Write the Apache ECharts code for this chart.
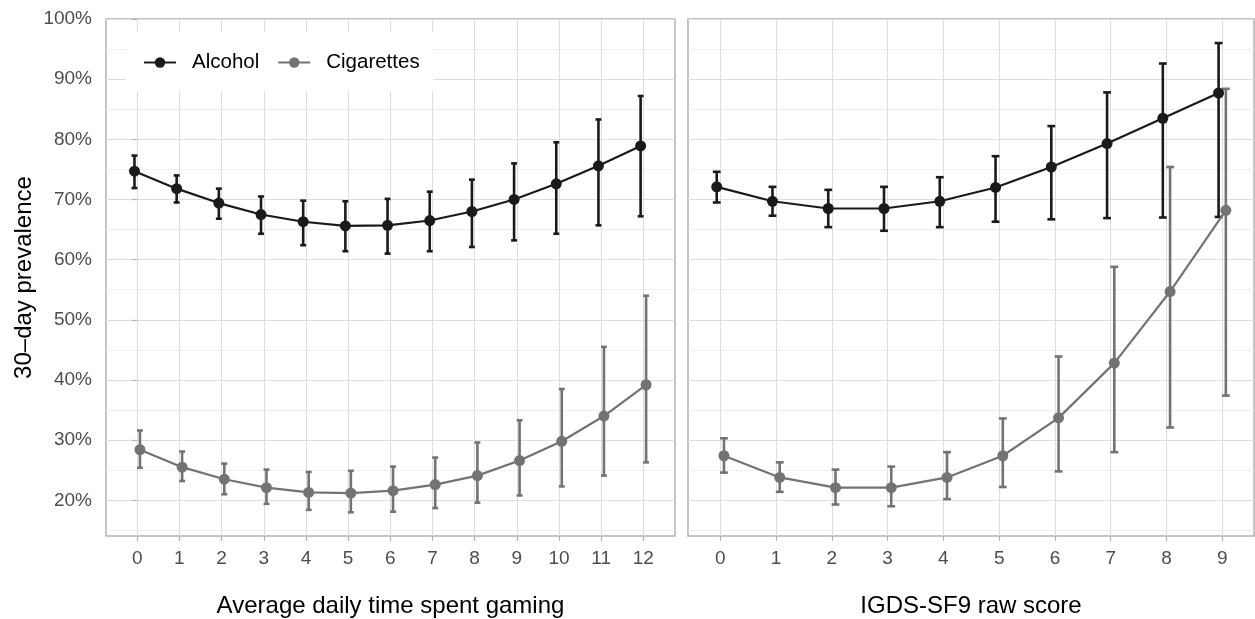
<!DOCTYPE html>
<html>
<head>
<meta charset="utf-8">
<script src="https://cdn.jsdelivr.net/npm/echarts@6/dist/echarts.min.js"></script>
<style>
  html, body { margin: 0; padding: 0; background: #fff; }
  #chart { width: 1255px; height: 619px; }
</style>
</head>
<body>
<div id="chart"></div>
<script>
// x categories
const timeCats = [0, 1, 2, 3, 4, 5, 6, 7, 8, 9, 10, 11, 12];
const scoreCats = [0, 1, 2, 3, 4, 5, 6, 7, 8, 9];

// average daily time spent gaming
const alcTime   = [74.7, 71.8, 69.4, 67.5, 66.3, 65.6, 65.7, 66.5, 68.0, 70.0, 72.6, 75.6, 78.9];
const alcTimeLo = [71.9, 69.5, 66.8, 64.3, 62.4, 61.4, 61.0, 61.4, 62.1, 63.2, 64.3, 65.7, 67.2];
const alcTimeHi = [77.3, 74.0, 71.8, 70.5, 69.8, 69.7, 70.1, 71.3, 73.3, 76.0, 79.5, 83.3, 87.2];
const cigTime   = [28.4, 25.5, 23.5, 22.1, 21.3, 21.2, 21.6, 22.6, 24.1, 26.6, 29.8, 34.0, 39.2];
const cigTimeLo = [25.4, 23.2, 21.0, 19.4, 18.4, 18.0, 18.1, 18.7, 19.6, 20.8, 22.3, 24.1, 26.3];
const cigTimeHi = [31.6, 28.1, 26.1, 25.1, 24.7, 24.9, 25.6, 27.1, 29.6, 33.3, 38.5, 45.5, 54.0];

// IGDS-SF9 raw score
const alcScore   = [72.1, 69.7, 68.5, 68.5, 69.7, 72.0, 75.4, 79.3, 83.5, 87.7];
const alcScoreLo = [69.5, 67.3, 65.4, 64.8, 65.4, 66.3, 66.7, 66.9, 67.0, 67.1];
const alcScoreHi = [74.6, 72.1, 71.6, 72.1, 73.7, 77.2, 82.2, 87.8, 92.6, 96.0];
const cigScore   = [27.4, 23.8, 22.1, 22.1, 23.8, 27.4, 33.7, 42.8, 54.7, 68.2];
const cigScoreLo = [24.6, 21.4, 19.3, 19.0, 20.2, 22.2, 24.8, 28.0, 32.1, 37.4];
const cigScoreHi = [30.3, 26.3, 25.1, 25.6, 28.0, 33.6, 43.9, 58.8, 75.4, 88.4];

const yMajor = [20, 30, 40, 50, 60, 70, 80, 90, 100];
const yMinor = [15, 25, 35, 45, 55, 65, 75, 85, 95];

const ALC = '#1a1a1a';
const CIG = '#737373';
const DODGE = 0.065;
const FONT = '"Liberation Sans", Arial, sans-serif';

function pts(cats, vals, shift) {
  return cats.map((c, i) => [c + shift, vals[i]]);
}
function bars(cats, lo, hi, shift) {
  return cats.map((c, i) => [c + shift, lo[i], hi[i]]);
}

// 误差线
function errRender(params, api) {
  const x = api.value(0);
  const bot = api.coord([x, api.value(1)]);
  const top = api.coord([x, api.value(2)]);
  const half = api.size([0.07, 0])[0];
  const style = { stroke: api.visual('color'), lineWidth: 2.6 };
  return {
    type: 'group',
    children: [
      { type: 'line', shape: { x1: top[0], y1: top[1], x2: bot[0], y2: bot[1] }, style: style },
      { type: 'line', shape: { x1: top[0] - half, y1: top[1], x2: top[0] + half, y2: top[1] }, style: style },
      { type: 'line', shape: { x1: bot[0] - half, y1: bot[1], x2: bot[0] + half, y2: bot[1] }, style: style }
    ]
  };
}

function lineSeries(name, color, data, idx) {
  return {
    name: name, type: 'line', xAxisIndex: idx, yAxisIndex: idx * 2,
    data: data, symbol: 'circle', symbolSize: 11,
    lineStyle: { color: color, width: 2.2 }, itemStyle: { color: color },
    z: 3, animation: false
  };
}
function errSeries(name, color, data, idx) {
  return {
    name: name, type: 'custom', xAxisIndex: idx, yAxisIndex: idx * 2,
    data: data, renderItem: errRender, itemStyle: { color: color },
    encode: { x: 0, y: [1, 2] }, z: 2, animation: false
  };
}

function xAx(idx, cats, min, max, title) {
  return {
    type: 'value', gridIndex: idx, min: min, max: max,
    name: title, nameLocation: 'middle', nameGap: 58,
    nameTextStyle: { fontFamily: FONT, fontSize: 24, color: '#000' },
    axisLine: { show: false },
    axisTick: { show: true, length: 5, customValues: cats, lineStyle: { color: '#b3b3b3', width: 1.2 } },
    axisLabel: { customValues: cats, margin: 13, fontFamily: FONT, fontSize: 19, color: '#4d4d4d' },
    splitLine: { show: true, lineStyle: { color: '#dedede', width: 1.1 } }
  };
}
function yAxes(idx, showLabels) {
  return [{
    type: 'value', gridIndex: idx, min: 14.06, max: 100,
    name: showLabels ? '30–day prevalence' : '', nameLocation: 'middle', nameGap: 70,
    nameTextStyle: { fontFamily: FONT, fontSize: 24, color: '#000' },
    axisLine: { show: false },
    axisTick: { show: showLabels, length: 5, customValues: yMajor, lineStyle: { color: '#b3b3b3', width: 1.2 } },
    axisLabel: { show: showLabels, customValues: yMajor, margin: 14, padding: [5, 0, 0, 0],
      fontFamily: FONT, fontSize: 19, color: '#4d4d4d', formatter: v => v + '%' },
    splitLine: { show: true, lineStyle: { color: '#dedede', width: 1.1 } }
  }, {
    type: 'value', gridIndex: idx, min: 14.06, max: 100,
    axisLine: { show: false },
    axisTick: { show: false, customValues: yMinor },
    axisLabel: { show: false, customValues: yMinor },
    splitLine: { show: true, lineStyle: { color: '#ebebeb', width: 0.8 } }
  }];
}

const chart = echarts.init(document.getElementById('chart'), null, { renderer: 'canvas' });
chart.setOption({
  backgroundColor: '#fff',
  animation: false,
  grid: [
    { left: 106, top: 19, width: 569, height: 517, show: true, borderColor: '#b3b3b3', borderWidth: 1.5,
      backgroundColor: 'transparent', containLabel: false, outerBoundsMode: 'none' },
    { left: 688, top: 19, width: 566, height: 517, show: true, borderColor: '#b3b3b3', borderWidth: 1.5,
      backgroundColor: 'transparent', containLabel: false, outerBoundsMode: 'none' }
  ],
  legend: {
    data: ['Alcohol', 'Cigarettes'],
    left: 126, top: 32,
    padding: [20, 14, 18, 17],
    backgroundColor: '#fff',
    itemWidth: 32, itemHeight: 13, itemGap: 18,
    textStyle: { fontFamily: FONT, fontSize: 20.5, color: '#000', padding: [0, 0, 0, 11] }
  },
  xAxis: [
    xAx(0, timeCats, -0.74, 12.75, 'Average daily time spent gaming'),
    xAx(1, scoreCats, -0.58, 9.57, 'IGDS-SF9 raw score')
  ],
  yAxis: yAxes(0, true).concat(yAxes(1, false)),
  series: [
    errSeries('Alcohol CI', ALC, bars(timeCats, alcTimeLo, alcTimeHi, -DODGE), 0),
    errSeries('Cigarettes CI', CIG, bars(timeCats, cigTimeLo, cigTimeHi, DODGE), 0),
    lineSeries('Alcohol', ALC, pts(timeCats, alcTime, -DODGE), 0),
    lineSeries('Cigarettes', CIG, pts(timeCats, cigTime, DODGE), 0),
    errSeries('Alcohol CI', ALC, bars(scoreCats, alcScoreLo, alcScoreHi, -DODGE), 1),
    errSeries('Cigarettes CI', CIG, bars(scoreCats, cigScoreLo, cigScoreHi, DODGE), 1),
    lineSeries('Alcohol', ALC, pts(scoreCats, alcScore, -DODGE), 1),
    lineSeries('Cigarettes', CIG, pts(scoreCats, cigScore, DODGE), 1)
  ]
});
</script>
</body>
</html>
